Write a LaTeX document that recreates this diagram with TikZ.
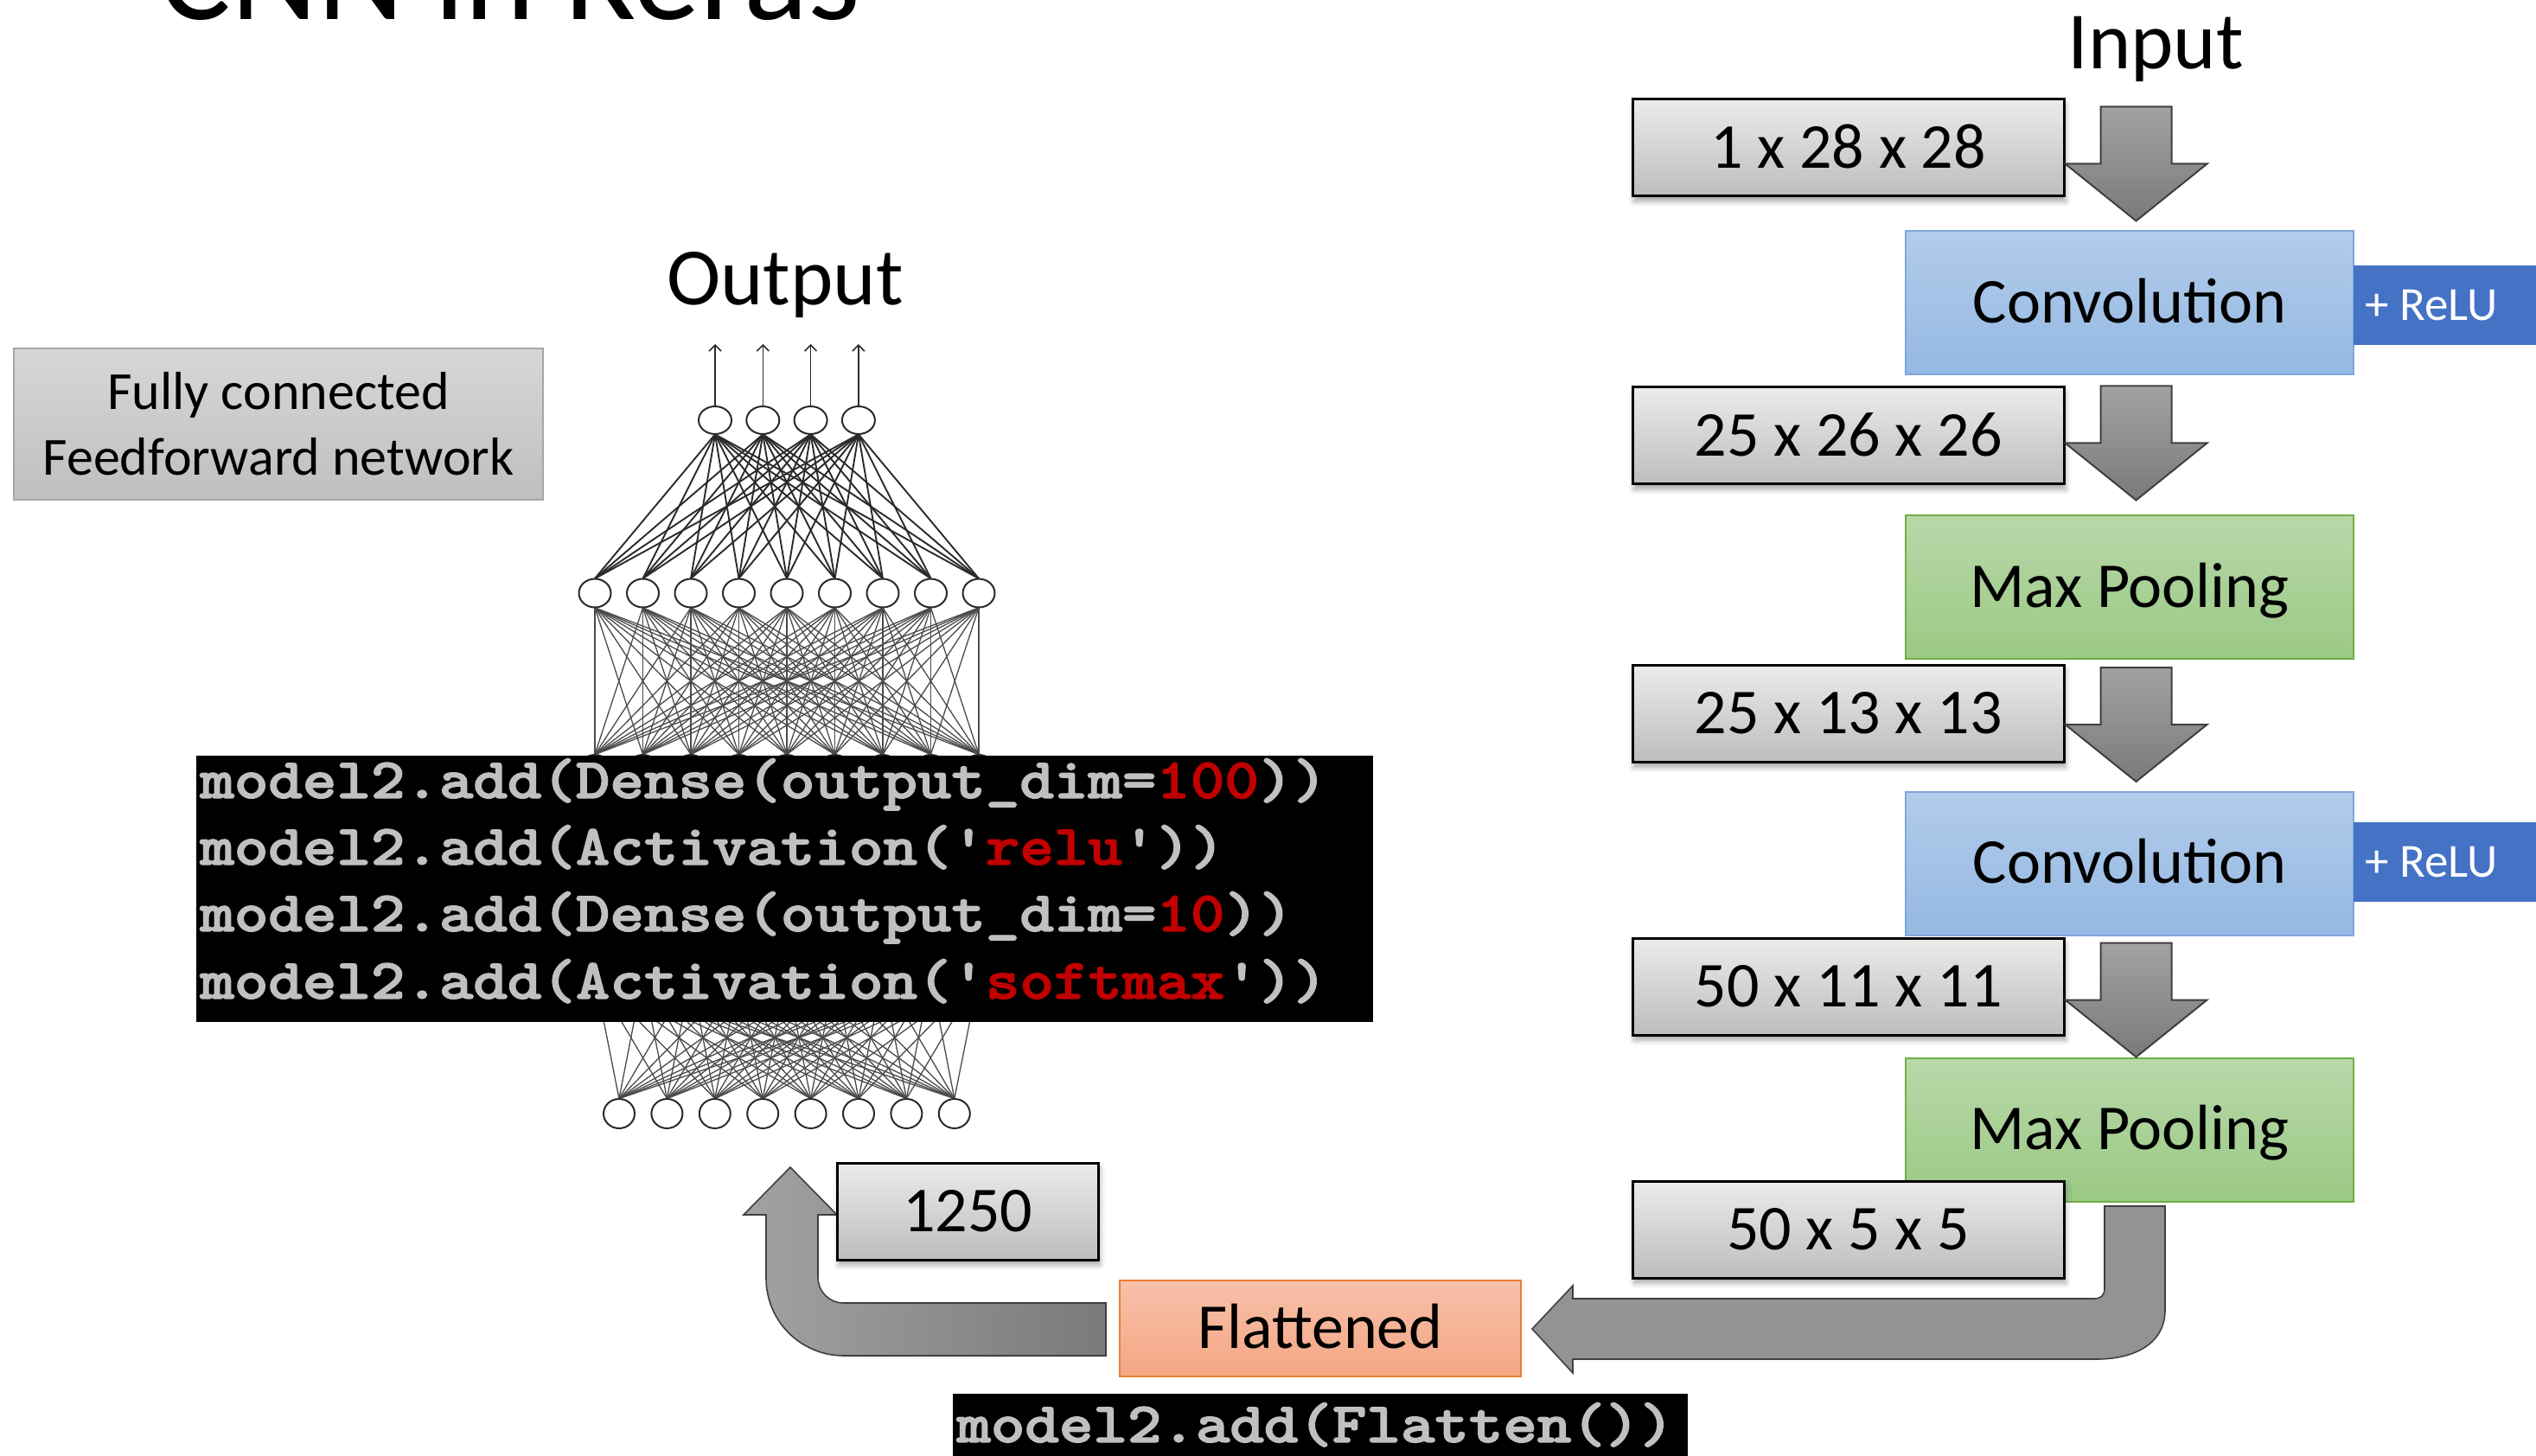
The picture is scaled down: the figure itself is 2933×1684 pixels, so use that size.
\documentclass[tikz,border=0pt]{standalone}
\usepackage{fontspec}
\setmainfont{Carlito}
\newfontfamily\codefont{lmmonolt10-bold.otf}[FakeBold=2]
\usetikzlibrary{shapes.geometric,shadows.blur,arrows.meta}
\definecolor{gbtop}{HTML}{EBEBEB}
\definecolor{gbbot}{HTML}{BDBDBD}
\definecolor{convtop}{HTML}{B2CCEA}
\definecolor{convbot}{HTML}{94B8E3}
\definecolor{convline}{HTML}{7DA7DA}
\definecolor{mptop}{HTML}{B8D8A9}
\definecolor{mpbot}{HTML}{9BC985}
\definecolor{mpline}{HTML}{70AD47}
\definecolor{reluc}{HTML}{4472C4}
\definecolor{flattop}{HTML}{F7C1AA}
\definecolor{flatbot}{HTML}{F4A683}
\definecolor{flatline}{HTML}{ED7D31}
\definecolor{fctop}{HTML}{D7D7D7}
\definecolor{fcbot}{HTML}{BFBFBF}
\definecolor{fcline}{HTML}{A6A6A6}
\definecolor{arrtop}{HTML}{A2A2A2}
\definecolor{arrbot}{HTML}{7A7A7A}
\definecolor{arrmid}{HTML}{939393}
\definecolor{arrline}{HTML}{3F3F3F}
\definecolor{codegray}{HTML}{C0C0C0}
\definecolor{codered}{HTML}{C00000}
\definecolor{netline}{HTML}{2A2A2A}
\definecolor{netlinetwo}{HTML}{4A4A4A}
\newcommand\blkdown[2]{\filldraw[downarrow] ([shift={(41,#2)}]#1.north east) -- ++(82,0) -- ++(0,66) -- ++(41,0) -- ++(-82,66) -- ++(-82,-66) -- ++(41,0) -- cycle;}
\newcommand\codetxt[1]{\scalebox{1.14}[1]{#1}}
\begin{document}
\begin{tikzpicture}[x=0.5pt,y=-0.5pt,
  boxfont/.style={font=\fontsize{37pt}{44pt}\selectfont, text height=23.3pt, text depth=0pt, inner sep=0pt},
  graybox/.style={boxfont, draw=black, line width=1.5pt, top color=gbtop, bottom color=gbbot, minimum width=249.5pt, minimum height=56pt, blur shadow={shadow xshift=1pt, shadow yshift=-3pt, shadow blur radius=3pt, shadow opacity=35}},
  convbox/.style={boxfont, draw=convline, line width=1pt, top color=convtop, bottom color=convbot, minimum width=259pt, minimum height=83pt},
  mpbox/.style={boxfont, draw=mpline, line width=1pt, top color=mptop, bottom color=mpbot, minimum width=259pt, minimum height=83pt},
  relubox/.style={fill=reluc, minimum width=109pt, minimum height=46pt, inner sep=0pt},
  relutext/.style={text=white, font=\fontsize{27.5pt}{32pt}\selectfont, text height=17.7pt, text depth=0pt, inner sep=0pt},
  flatbox/.style={boxfont, draw=flatline, line width=1pt, top color=flattop, bottom color=flatbot, minimum width=232pt, minimum height=55.5pt},
  fcbox/.style={draw=fcline, line width=0.8pt, top color=fctop, bottom color=fcbot, minimum width=306pt, minimum height=87.5pt, align=center, font=\fontsize{31pt}{38pt}\selectfont, inner sep=0pt},
  bigtext/.style={font=\fontsize{47pt}{56pt}\selectfont, inner sep=0pt, anchor=base},
  codebg/.style={fill=black, inner sep=0pt},
  codeline/.style={anchor=base west, inner sep=0pt, text=codegray, font=\codefont\fontsize{33pt}{40pt}\selectfont},
  hold/.style={ellipse, inner sep=0pt},
  neuron/.style={ellipse, draw=netline, line width=1pt, fill=white, inner sep=0pt},
  topsz/.style={minimum width=19pt, minimum height=16pt},
  midsz/.style={minimum width=18.5pt, minimum height=16.5pt},
  lowsz/.style={minimum width=18pt, minimum height=17pt},
  topedge/.style={draw=netline, line width=0.95pt},
  netedge/.style={draw=netlinetwo, line width=0.65pt},
  outarrow/.style={draw=netline, line width=0.8pt, -{Straight Barb[length=3.5pt,width=7pt]}},
  downarrow/.style={draw=arrline, line width=1pt, top color=arrtop, bottom color=arrbot},
  uarrow/.style={draw=arrline, line width=0.8pt, left color=arrtop, right color=arrbot},
  barrow/.style={draw=arrline, line width=0.8pt, fill=arrmid}]
\useasboundingbox (0,0) rectangle (2933,1684);
\clip (0,0) rectangle (2933,1684);

% title (cut off at top, as in the slide)
\node[anchor=base west, inner sep=0pt, font=\fontsize{77.5pt}{84pt}\selectfont] (title) at (184,23) {CNN in Keras};

% labels
\node[bigtext] (inp) at (2493,80) {Input};
\node[bigtext] (outp) at (908,353) {Output};
\node[fcbox] (fc) at (322,490.5) {Fully connected\\Feedforward network};

% ---------- neural network: placeholders ----------
\foreach \j in {1,...,4} {
  \pgfmathsetmacro\xx{827+55.3*(\j-1)}
  \node[hold, topsz] (nt\j) at (\xx,486) {};
  \coordinate (no\j) at (\xx,398);
}
\foreach \i in {1,...,9} {
  \pgfmathsetmacro\xx{688+55.5*(\i-1)}
  \node[hold, midsz] (nm\i) at (\xx,686) {};
  \node[hold, lowsz] (na\i) at (\xx,890) {};
  \node[hold, lowsz] (nh\i) at (\xx,1112) {};
}
\foreach \k in {1,...,8} {
  \pgfmathsetmacro\xx{716+55.4*(\k-1)}
  \node[hold, lowsz] (nb\k) at (\xx,1288) {};
}
% connections
\foreach \i in {1,...,9} { \foreach \j in {1,...,4} { \draw[topedge] (nm\i.north) -- (nt\j.south); } }
\foreach \i in {1,...,9} { \foreach \j in {1,...,9} { \draw[netedge] (nm\i.south) -- (na\j.north); } }
\foreach \i in {1,...,9} { \foreach \k in {1,...,8} { \draw[netedge] (nh\i.south) -- (nb\k.north); } }
\foreach \j in {1,...,4} { \draw[outarrow] (nt\j.north) -- (no\j); }
% neurons drawn on top of the connections
\foreach \j in {1,...,4} { \node[neuron, topsz] at (nt\j) {}; }
\foreach \i in {1,...,9} { \node[neuron, midsz] at (nm\i) {}; \node[neuron, lowsz] at (na\i) {}; \node[neuron, lowsz] at (nh\i) {}; }
\foreach \k in {1,...,8} { \node[neuron, lowsz] at (nb\k) {}; }

% code block
\node[codebg, minimum width=680.5pt, minimum height=154pt] (code) at (907.5,1028) {};
\node[codeline] (cl1) at (231,923) {\codetxt{model2.add(Dense(output\_dim=\textcolor{codered}{100}))}};
\node[codeline] (cl2) at (231,1000) {\codetxt{model2.add(Activation(\textquotesingle\textcolor{codered}{relu}\textquotesingle))}};
\node[codeline] (cl3) at (231,1077) {\codetxt{model2.add(Dense(output\_dim=\textcolor{codered}{10}))}};
\node[codeline] (cl4) at (231,1155) {\codetxt{model2.add(Activation(\textquotesingle\textcolor{codered}{softmax}\textquotesingle))}};

% ---------- right column ----------
\node[convbox] (c1) at (2463,350.5) {Convolution};
\node[relubox] (r1) at (2831,353) {};
\node[relutext] (rt1) at (2812,353) {+ ReLU};
\node[mpbox] (mp1) at (2463,679) {Max Pooling};
\node[convbox] (c2) at (2463,998.5) {Convolution};
\node[relubox] (r2) at (2831,997) {};
\node[relutext] (rt2) at (2812,997) {+ ReLU};
\node[mpbox] (mp2) at (2463,1306.5) {Max Pooling};

\node[graybox] (b1) at (2137.5,171) {1 x 28 x 28};
\node[graybox] (b2) at (2137.5,504) {25 x 26 x 26};
\node[graybox] (b3) at (2137.5,825.5) {25 x 13 x 13};
\node[graybox] (b4) at (2137.5,1141) {50 x 11 x 11};

\blkdown{b1}{10}
\blkdown{b2}{0}
\blkdown{b3}{4}
\blkdown{b4}{7}

% big bent arrow from right column to Flattened
\filldraw[barrow] (2434,1395) -- (2504,1395) -- (2504,1515)
  .. controls (2504,1552) and (2472,1572) .. (2424,1572) -- (1819,1572) -- (1819,1588)
  -- (1772,1537) -- (1819,1487) -- (1819,1502) -- (2422,1502)
  .. controls (2430,1502) and (2434,1498) .. (2434,1490) -- cycle;

\node[graybox] (b5) at (2137.5,1422) {50 x 5 x 5};

% Flattened and U-arrow up to 1250
\filldraw[uarrow] (1279,1507) -- (976,1507) .. controls (959,1507) and (946,1494) .. (946,1477)
  -- (946,1405) -- (968,1405) -- (914,1350) -- (860,1405) -- (886,1405) -- (886,1478)
  .. controls (886,1528) and (926,1568) .. (976,1568) -- (1279,1568) -- cycle;
\node[flatbox] (flat) at (1527,1536.5) {Flattened};
\node[graybox, minimum width=151pt] (n1250) at (1119,1401) {1250};

\node[codebg, minimum width=425pt, minimum height=39pt] (fcode) at (1527,1651) {};
\node[codeline] (flc) at (1106,1668) {\codetxt{model2.add(Flatten())}};
\end{tikzpicture}
\end{document}
